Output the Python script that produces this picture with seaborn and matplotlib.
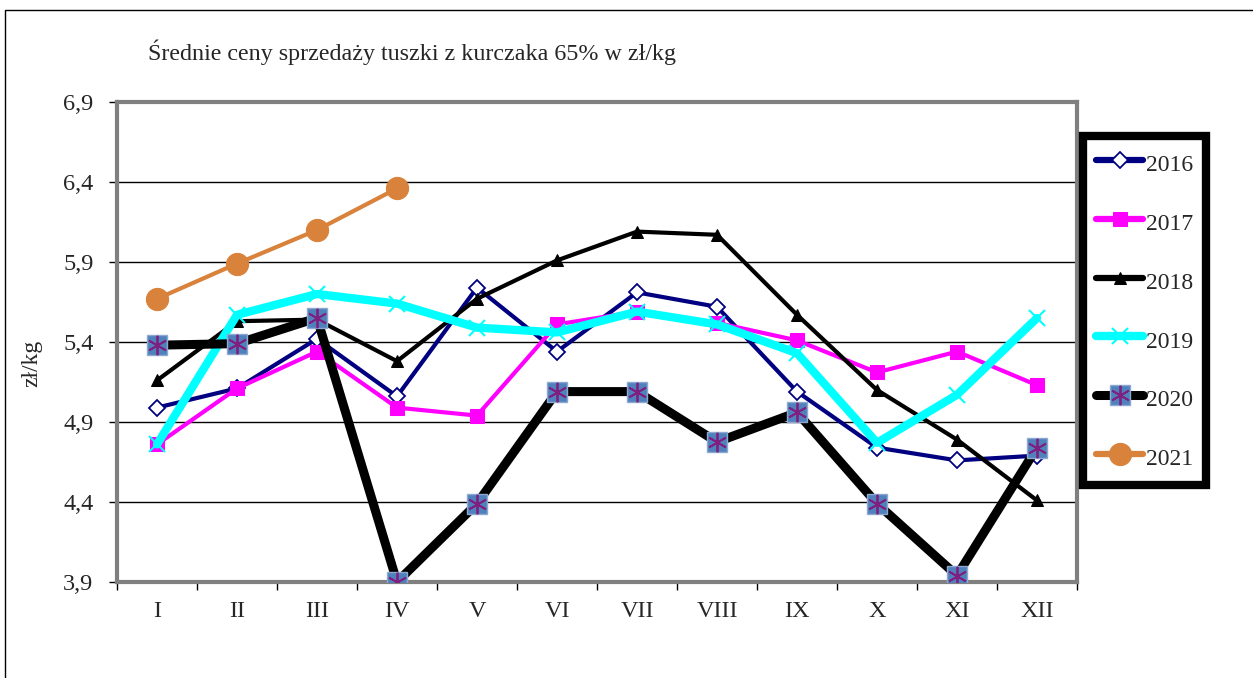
import numpy as np
import pandas as pd
import matplotlib
matplotlib.use("Agg")
import matplotlib.pyplot as plt
import matplotlib.patches as mpatches
from matplotlib.lines import Line2D
import seaborn as sns

months = ["I", "II", "III", "IV", "V", "VI", "VII", "VIII", "IX", "X", "XI", "XII"]
y2016 = [4.99, 5.11, 5.42, 5.06, 5.74, 5.34, 5.71, 5.62, 5.09, 4.74, 4.66, 4.69]
y2017 = [4.76, 5.11, 5.34, 4.99, 4.94, 5.51, 5.59, 5.52, 5.41, 5.21, 5.34, 5.13]
y2018 = [5.16, 5.53, 5.54, 5.28, 5.67, 5.91, 6.09, 6.07, 5.57, 5.10, 4.79, 4.41]
y2019 = [4.76, 5.57, 5.70, 5.64, 5.49, 5.46, 5.59, 5.51, 5.33, 4.77, 5.07, 5.55]
y2020 = [5.38, 5.39, 5.55, 3.90, 4.39, 5.09, 5.09, 4.775, 4.96, 4.39, 3.94, 4.74]
y2021 = [5.67, 5.89, 6.10, 6.36]
yticks = [3.9, 4.4, 4.9, 5.4, 5.9, 6.4, 6.9]
title = "Średnie ceny sprzedaży tuszki z kurczaka 65% w zł/kg"
ylabel = "zł/kg"

sns.set_style("white")
plt.rcParams["font.family"] = ["Liberation Serif", "DejaVu Serif"]

W, H = 1253, 678
fig = plt.figure(figsize=(W / 100, H / 100), dpi=100)
ax = fig.add_axes([117 / W, 1 - 582 / H, 960 / W, 480 / H])

def frame(vals):
    return pd.DataFrame({"x": np.arange(len(vals)), "y": vals})

sns.lineplot(data=frame(y2016), x="x", y="y", ax=ax, color="#000080", lw=3,
             marker="D", markersize=8, markerfacecolor="white",
             markeredgecolor="#000080", markeredgewidth=1.3, label="2016", zorder=3)
sns.lineplot(data=frame(y2017), x="x", y="y", ax=ax, color="#FF00FF", lw=3,
             marker="s", markersize=10, markerfacecolor="#FF00FF",
             markeredgecolor="#FF00FF", label="2017", zorder=3)
sns.lineplot(data=frame(y2018), x="x", y="y", ax=ax, color="black", lw=3,
             marker="^", markersize=8, markerfacecolor="black",
             markeredgecolor="black", label="2018", zorder=3)
sns.lineplot(data=frame(y2019), x="x", y="y", ax=ax, color="#00FFFF", lw=6,
             marker="x", markersize=12, markeredgewidth=1.5,
             markeredgecolor="#00FFFF", label="2019", zorder=3)
sns.lineplot(data=frame(y2020), x="x", y="y", ax=ax, color="black", lw=6.5,
             marker="s", markersize=14, markerfacecolor="#4F81BD",
             markeredgecolor="#8EA9D0", markeredgewidth=1, label="2020", zorder=4)
sns.lineplot(data=frame(y2021), x="x", y="y", ax=ax, color="#D9823B", lw=3,
             marker="o", markersize=16, markerfacecolor="#D9823B",
             markeredgecolor="#D9823B", label="2021", zorder=3)
# asterisk overlay on the 2020 markers
sns.lineplot(data=frame(y2020), x="x", y="y", ax=ax, linestyle="", color="#7F1F7F",
             marker=(6, 2, 0), markersize=14, markeredgewidth=1.3,
             markeredgecolor="#7F1F7F", label="ast", zorder=5)

ax.set_xlim(-0.5, 11.5)
ax.set_ylim(3.9, 6.9)
ax.set_yticks(yticks)
ax.set_yticklabels([f"{v:.1f}".replace(".", ",") for v in yticks], fontsize=17.5)
ax.set_xticks(np.arange(12))
ax.set_xticklabels(months, fontsize=17.5)
ax.set_xticks(np.arange(-0.5, 12, 1), minor=True)
ax.tick_params(axis="x", which="major", length=0, pad=14)
ax.tick_params(axis="x", which="minor", length=6, width=1, color="black", direction="out", bottom=True)
ax.tick_params(axis="y", length=6, width=1, color="black", direction="out", pad=11, left=True)
ax.yaxis.grid(True, color="black", lw=1)
ax.set_axisbelow(True)
ax.set_xlabel("")
ax.set_ylabel("")
for sp in ax.spines.values():
    sp.set_color("#808080")
    sp.set_linewidth(3)
    sp.set_visible(True)

fig.text(148 / W, 1 - 52 / H, title, fontsize=17.3, ha="left", va="center")
fig.text(32 / W, 1 - 363 / H, ylabel, fontsize=17, rotation=90, ha="center", va="center")

handles, labels = ax.get_legend_handles_labels()
hmap = dict(zip(labels, handles))
ast = hmap.pop("ast")
lh = []
ll = []
for k in ["2016", "2017", "2018", "2019", "2020", "2021"]:
    lh.append((hmap[k], ast) if k == "2020" else hmap[k])
    ll.append(k)
ax.get_legend().remove()
leg = fig.legend(lh, ll, loc="upper left", bbox_to_anchor=(1083 / W, 1 - 136 / H),
                 fontsize=17, frameon=True, fancybox=False, framealpha=1,
                 edgecolor="black", labelspacing=1.27, handlelength=2.0,
                 handleheight=1.5, handletextpad=0.1, borderpad=0.55, borderaxespad=0)
leg.get_frame().set_linewidth(6)
for h in leg.legend_handles:
    if isinstance(h, Line2D) and h.get_linestyle() != "None":
        h.set_linewidth(max(h.get_linewidth(), 4.5))

fig.patches.append(mpatches.Rectangle((5 / W, -0.1), 1.2, 1.1 - 10 / H,
                                      transform=fig.transFigure, fill=False,
                                      lw=1, edgecolor="black"))
fig.savefig("out.png", dpi=100)
